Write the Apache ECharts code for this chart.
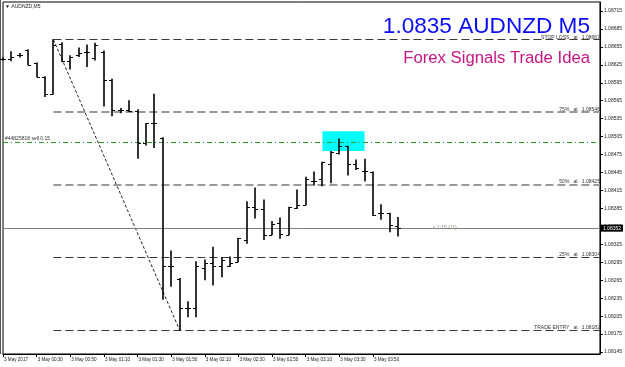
<!DOCTYPE html>
<html><head><meta charset="utf-8">
<script src="https://cdn.jsdelivr.net/npm/echarts@6/dist/echarts.min.js"></script>
<style>html,body{margin:0;padding:0;background:#fff}#c{width:625px;height:367px}</style>
</head><body><div id="c"></div>
<script>
// ---- data ----
const times = ['00:10','00:15','00:20','00:25','00:30','00:35','00:40','00:45','00:50','00:55',
  '01:00','01:05','01:10','01:15','01:20','01:25','01:30','01:35','01:40','01:45',
  '01:50','01:55','02:00','02:05','02:10','02:15','02:20','02:25','02:30','02:35',
  '02:40','02:45','02:50','02:55','03:00','03:05','03:10','03:15','03:20','03:25',
  '03:30','03:35','03:40','03:45','03:50','03:55','04:00','04:05'];
const xTickLabels = ['3 May 2017','3 May 00:30','3 May 00:50','3 May 01:10','3 May 01:30','3 May 01:50',
  '3 May 02:10','3 May 02:30','3 May 02:50','3 May 03:10','3 May 03:30','3 May 03:50'];
const opens  = [1.08635,1.08635,1.08641,1.08649,1.08628,1.08604,1.08577,1.08660,1.08632,1.08641,
  1.08646,1.08636,1.08647,1.08600,1.08550,1.08550,1.08548,1.08494,1.08527,1.08502,
  1.08288,1.08267,1.08218,1.08218,1.08285,1.08293,1.08288,1.08289,1.08296,1.08333,
  1.08388,1.08384,1.08341,1.08360,1.08341,1.08385,1.08391,1.08431,1.08434,1.08460,
  1.08478,1.08489,1.08460,1.08448,1.08446,1.08378,1.08377,1.08355];
const highs  = [1.08637,1.08647,1.08644,1.08650,1.08628,1.08605,1.08667,1.08662,1.08640,1.08653,
  1.08658,1.08661,1.08648,1.08601,1.08552,1.08565,1.08550,1.08527,1.08576,1.08503,
  1.08314,1.08268,1.08229,1.08296,1.08299,1.08320,1.08303,1.08304,1.08335,1.08396,
  1.08419,1.08399,1.08363,1.08369,1.08387,1.08416,1.08437,1.08446,1.08462,1.08480,
  1.08501,1.08489,1.08466,1.08467,1.08446,1.08391,1.08377,1.08370];
const lows   = [1.08633,1.08632,1.08638,1.08625,1.08605,1.08572,1.08576,1.08630,1.08618,1.08639,
  1.08622,1.08633,1.08556,1.08540,1.08545,1.08547,1.08469,1.08491,1.08487,1.08233,
  1.08255,1.08182,1.08204,1.08204,1.08266,1.08257,1.08271,1.08288,1.08296,1.08327,
  1.08369,1.08333,1.08341,1.08335,1.08341,1.08385,1.08391,1.08424,1.08423,1.08428,
  1.08476,1.08441,1.08450,1.08431,1.08373,1.08367,1.08346,1.08339];
const closes = [1.08635,1.08638,1.08641,1.08625,1.08605,1.08577,1.08658,1.08632,1.08638,1.08644,
  1.08647,1.08658,1.08600,1.08550,1.08550,1.08548,1.08494,1.08527,1.08527,1.08288,
  1.08288,1.08218,1.08218,1.08288,1.08294,1.08289,1.08299,1.08294,1.08335,1.08388,
  1.08384,1.08341,1.08359,1.08342,1.08387,1.08391,1.08435,1.08431,1.08462,1.08480,
  1.08490,1.08460,1.08452,1.08447,1.08374,1.08378,1.08357,1.08352];
const yTicks = [1.08145,1.08175,1.08205,1.08235,1.08265,1.08295,1.08325,1.08355,1.08385,1.08415,
  1.08445,1.08475,1.08505,1.08535,1.08565,1.08595,1.08625,1.08655,1.08685,1.08715];
const fibNames  = ['STOP LOSS','75%','50%','25%','TRADE ENTRY'];
const fibLevels = [1.08667,1.08546,1.08425,1.08304,1.08182];
const fibFrom = 6, fibToLow = 21, lastSlot = 71;
const orderPrice = 1.08495, orderText = '#44825818 sell 0.15';
const currentPrice = 1.08352, countdownText = '< 1:15 (11)';
const boxFrom = 38, boxTo = 43, boxTop = 1.08514, boxBottom = 1.08481;

// ---- build ----
const cats = [];
for (let i = 0; i <= lastSlot; i++) cats.push(i < times.length ? times[i] : 'f' + i);
const ohlc = opens.map((o, i) => [i, o, highs[i], lows[i], closes[i]]);

const small = {fontFamily:'Liberation Sans, Arial, sans-serif', fontSize:5, color:'#222'};

const fibMark = fibLevels.map((v, k) => {
  const light = (k === 1 || k === 2);
  const ls = {color: light ? '#9a9a9a' : '#3a3a3a', width: light ? 2 : 1, type:[8,4]};
  return [
    {coord:[fibFrom, v], lineStyle: ls,
     label:{show:true, position:'insideEndTop', distance:[0,0], formatter: fibNames[k] + '   at   ' + v.toFixed(5),
            fontFamily: small.fontFamily, fontSize:5, color:'#333'}},
    {coord:[lastSlot, v]}
  ];
});

const chart = echarts.init(document.getElementById('c'), null, {renderer:'canvas'});
chart.setOption({
  animation:false,
  backgroundColor:'#fff',
  title:[
    {text:'1.0835 AUDNZD M5', right:35, top:15, padding:0,
     textStyle:{color:'#0a0aff', fontSize:22.6, fontWeight:'normal', fontFamily:'Liberation Sans, Arial, sans-serif'}},
    {text:'Forex Signals Trade Idea', right:35, top:50, padding:0,
     textStyle:{color:'#c71585', fontSize:16.7, fontWeight:'normal', fontFamily:'Liberation Sans, Arial, sans-serif'}},
    {text:'\u25BC AUDNZD,M5', left:5, top:4, padding:0,
     textStyle:{color:'#222', fontSize:5, fontWeight:'normal', fontFamily:'Liberation Sans, Arial, sans-serif'}}
  ],
  graphic:[
    {type:'line', shape:{x1:0.5, y1:0, x2:0.5, y2:354}, style:{stroke:'#555', lineWidth:1}}
  ],
  grid:{left:3, right:24, top:2, bottom:13, show:true, borderColor:'#000', borderWidth:1, backgroundColor:'#fff'},
  xAxis:{type:'category', data:cats, boundaryGap:false,
    axisLine:{lineStyle:{color:'#000', width:1}},
    axisTick:{show:true, length:3, interval:(i)=> i % 4 === 0 && i / 4 < xTickLabels.length, lineStyle:{color:'#000'}},
    axisLabel:{interval:(i)=> i % 4 === 0 && i / 4 < xTickLabels.length, align:'left', margin:3,
      formatter:(v, i)=> (i % 4 === 0 && i / 4 < xTickLabels.length) ? xTickLabels[i / 4] : '',
      fontFamily: small.fontFamily, fontSize:4.6, color:'#222', padding:[0,0,0,1]},
    splitLine:{show:false}},
  yAxis:{type:'value', position:'right', min:1.081417, max:1.0873, scale:true,
    axisLine:{show:true, lineStyle:{color:'#000', width:1}},
    axisTick:{show:true, length:3, customValues:yTicks, lineStyle:{color:'#000'}},
    axisLabel:{customValues:yTicks, formatter:(v)=> v.toFixed(5), margin:4,
      fontFamily: small.fontFamily, fontSize:5, color:'#222'},
    splitLine:{show:false}},
  series:[
    {type:'line', name:'levels', data:[], z:1, silent:true,
     markArea:{silent:true, itemStyle:{color:'#00ffff'},
       data:[[{coord:[boxFrom, boxTop]}, {coord:[boxTo, boxBottom]}]]},
     markLine:{silent:true, symbol:['none','none'], animation:false, data: fibMark.concat([
       [{coord:[0, orderPrice], lineStyle:{color:'#2f9a2f', width:1, type:[5,3,1,3]},
         label:{show:true, position:'insideStartTop', distance:[2,1], formatter: orderText,
                fontFamily: small.fontFamily, fontSize:5, color:'#333'}},
        {coord:[lastSlot, orderPrice]}],
       [{coord:[0, currentPrice], lineStyle:{color:'#808080', width:1, type:'solid'},
         label:{show:true, position:'end', distance:1, formatter: currentPrice.toFixed(5),
                backgroundColor:'#000', color:'#fff', padding:[1,2,1,2], fontFamily: small.fontFamily, fontSize:5}},
        {coord:[lastSlot, currentPrice]}]
     ])},
     markPoint:{silent:true, symbol:'circle', symbolSize:0,
       data:[{coord:[51, currentPrice], label:{show:true, position:'right', distance:1, offset:[0,-1],
         formatter: countdownText, fontFamily: small.fontFamily, fontSize:5, color:'#8a8a7a'}}]}
    },
    {type:'line', name:'fibline', data:[[fibFrom, fibLevels[0]], [fibToLow, fibLevels[4]]], z:2,
     symbol:'none', silent:true, lineStyle:{color:'#222', width:1, type:[3,2]}},
    {type:'custom', name:'bars', z:5, data:ohlc, encode:{x:0, y:[1,2,3,4]},
     renderItem:function(params, api){
       const i = api.value(0);
       const pO = api.coord([i, api.value(1)]);
       const pH = api.coord([i, api.value(2)]);
       const pL = api.coord([i, api.value(3)]);
       const pC = api.coord([i, api.value(4)]);
       const x = Math.round(pH[0]);
       const yo = Math.round(pO[1]) + 0.5, yc = Math.round(pC[1]) + 0.5;
       return {type:'group', children:[
         {type:'line', shape:{x1:x, y1:pH[1]-0.5, x2:x, y2:pL[1]+0.5}, style:{stroke:'#000', lineWidth:1.6}},
         {type:'line', shape:{x1:x-3, y1:yo, x2:x, y2:yo}, style:{stroke:'#000', lineWidth:1}},
         {type:'line', shape:{x1:x, y1:yc, x2:x+3, y2:yc}, style:{stroke:'#000', lineWidth:1}}
       ]};
     }}
  ]
});
</script>
</body></html>
